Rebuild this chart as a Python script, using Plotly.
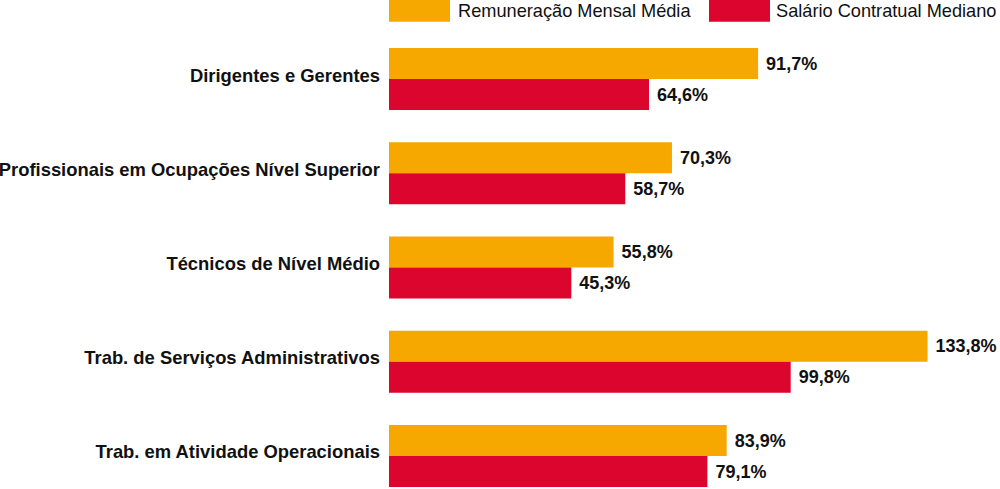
import plotly.graph_objects as go

categories = [
    "Dirigentes e Gerentes",
    "Profissionais em Ocupações Nível Superior",
    "Técnicos de Nível Médio",
    "Trab. de Serviços Administrativos",
    "Trab. em Atividade Operacionais",
]
remuneracao = [91.7, 70.3, 55.8, 133.8, 83.9]
salario = [64.6, 58.7, 45.3, 99.8, 79.1]
series_names = ["Remuneração Mensal Média", "Salário Contratual Mediano"]

ORANGE = "#F6A800"
RED = "#DC052D"
FONT = "Liberation Sans, Arial, sans-serif"

W, H = 1000, 489
ML, MT, MB, MR = 389, 32, 0, 0
PW, PH = W - ML - MR, H - MT - MB

def px_x(p):
    return (p - ML) / PW

def px_y(p):
    return (H - MB - p) / PH

fig = go.Figure()
for name, vals, col in [(series_names[0], remuneracao, ORANGE), (series_names[1], salario, RED)]:
    fig.add_trace(go.Bar(
        y=categories, x=vals, orientation="h", name=name,
        marker=dict(color=col, line=dict(width=0)),
        text=[" " + f"{v:.1f}%".replace(".", ",") for v in vals],
        textposition="outside",
        textfont=dict(family=FONT, size=18, color="#111111", weight="bold"),
        cliponaxis=False,
        showlegend=False,
    ))

# custom legend (large swatches like the original)
legend_items = [(series_names[0], ORANGE, 389, 450, 456), (series_names[1], RED, 709, 770, 774)]
for name, col, x0, x1, tx in legend_items:
    fig.add_shape(type="rect", xref="paper", yref="paper",
                  x0=px_x(x0), x1=px_x(x1), y0=px_y(21.7), y1=px_y(-2),
                  fillcolor=col, line=dict(width=0))
    fig.add_annotation(xref="paper", yref="paper", x=px_x(tx), y=px_y(11),
                       text=name, showarrow=False, xanchor="left", yanchor="middle",
                       font=dict(family=FONT, size=18.2, color="#111111"))

fig.update_layout(
    width=W, height=H,
    margin=dict(l=ML, r=MR, t=MT, b=MB, pad=0),
    paper_bgcolor="white", plot_bgcolor="white",
    barmode="group", bargap=0.342, bargroupgap=0,
    xaxis=dict(range=[0, 151.8], visible=False, showgrid=False, zeroline=False, fixedrange=True),
    yaxis=dict(range=[4.35, -0.5], showgrid=False, zeroline=False, showline=False,
               ticks="", ticklabelstandoff=8, ticklabelshift=4,
               tickfont=dict(family=FONT, size=18.4, color="#111111", weight="bold")),
)

fig.write_html(
    "out.html",
    config={"displayModeBar": False},
    post_script="document.body.style.margin='0';document.body.style.overflow='hidden';",
)
